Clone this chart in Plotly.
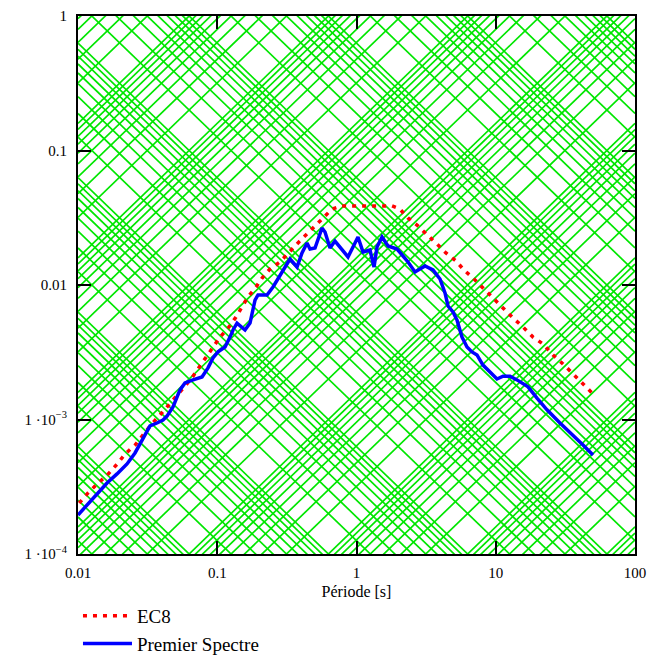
import math
import plotly.graph_objects as go

# ---------------- data ----------------
# EC8 pseudo-velocity spectrum (period [s], value)
ec8_T = [0.0102, 0.0116, 0.0137, 0.0162, 0.0191, 0.0218, 0.0257, 0.0334, 0.0388, 0.0443,
         0.0506, 0.0587, 0.0670, 0.0752, 0.0844, 0.0948, 0.1047, 0.1214, 0.1364, 0.166,
         0.190, 0.210, 0.239, 0.282, 0.333, 0.386, 0.449, 0.512, 0.574, 0.667,
         0.787, 0.929, 1.095, 1.29, 1.52, 1.80, 2.05, 2.34, 2.72, 3.26,
         3.85, 4.39, 5.18, 5.92, 6.87, 8.10, 9.55, 11.28, 13.30, 15.70,
         18.52, 21.85, 25.78, 30.41, 35.87, 42.34, 49.94]
ec8_V = [2.39e-4, 2.79e-4, 3.31e-4, 3.86e-4, 4.66e-4, 5.54e-4, 6.46e-4, 9.1e-4, 1.08e-3, 1.26e-3,
         1.50e-3, 1.77e-3, 2.10e-3, 2.50e-3, 2.92e-3, 3.52e-3, 4.10e-3, 4.87e-3, 5.78e-3, 8.15e-3,
         9.66e-3, 0.01127, 0.01315, 0.01483, 0.0179, 0.0209, 0.0244, 0.0279, 0.0320, 0.0367,
         0.0387, 0.0387, 0.0387, 0.0387, 0.0387, 0.0387, 0.0367, 0.0315, 0.0279, 0.0235,
         0.0198, 0.0173, 0.0151, 0.0129, 0.01128, 9.5e-3, 8.0e-3, 6.75e-3, 5.69e-3, 4.87e-3,
         4.10e-3, 3.64e-3, 3.02e-3, 2.59e-3, 2.18e-3, 1.84e-3, 1.55e-3]

# First spectrum
sp_T = [0.0100, 0.01161, 0.01368, 0.01616, 0.01906, 0.02249, 0.02567, 0.02929, 0.03289, 0.03693,
        0.04077, 0.04356, 0.04810, 0.05401, 0.05866, 0.06697, 0.07773, 0.08584, 0.09322, 0.1013,
        0.1137, 0.1235, 0.1298, 0.1387, 0.1583, 0.1719, 0.1867, 0.1962, 0.2277, 0.2514,
        0.2822, 0.3065, 0.3330, 0.3739, 0.4061, 0.4411, 0.4636, 0.5036, 0.5653, 0.5940,
        0.6452, 0.7008, 0.7870, 0.8690, 1.025, 1.114, 1.250, 1.336, 1.404, 1.525,
        1.684, 1.954, 2.158, 2.344, 2.632, 3.104, 3.543, 3.978, 4.321, 4.541,
        4.932, 5.268, 5.723, 6.216, 6.751, 7.333, 8.097, 9.093, 10.21, 11.28,
        12.66, 14.21, 17.05, 19.78, 23.33, 28.94, 35.87, 42.34, 49.94]
sp_V = [1.95e-4, 2.31e-4, 2.75e-4, 3.37e-4, 3.94e-4, 4.67e-4, 5.64e-4, 7.16e-4, 8.95e-4, 9.42e-4,
        9.91e-4, 1.06e-3, 1.24e-3, 1.66e-3, 1.87e-3, 1.97e-3, 2.07e-3, 2.42e-3, 2.87e-3, 3.18e-3,
        3.46e-3, 4.10e-3, 4.63e-3, 5.21e-3, 4.63e-3, 5.21e-3, 7.73e-3, 8.43e-3, 8.43e-3, 9.66e-3,
        0.01187, 0.01384, 0.01560, 0.01361, 0.01730, 0.02051, 0.01852, 0.01884, 0.02652, 0.02477,
        0.01884, 0.02123, 0.01820, 0.01616, 0.02275, 0.01759, 0.01820, 0.01361, 0.01918, 0.02275,
        0.01950, 0.01852, 0.01643, 0.01483, 0.01250, 0.01384, 0.01294, 0.01108, 8.73e-3, 6.98e-3,
        6.30e-3, 5.49e-3, 4.10e-3, 3.46e-3, 3.18e-3, 3.02e-3, 2.54e-3, 2.25e-3, 2.00e-3, 2.10e-3,
        2.10e-3, 1.97e-3, 1.75e-3, 1.44e-3, 1.18e-3, 9.42e-4, 7.67e-4, 6.46e-4, 5.44e-4]

# tripartite grid: mantissas and decades
grid_mantissas = [1, 2, 3, 4, 5, 6, 7, 8, 9]
accel_decades = [-6, -5, -4, -3, -2, -1, 0, 1, 2]     # constant acceleration lines
disp_decades = [-7, -6, -5, -4, -3, -2, -1, 0, 1]     # constant displacement lines

x_ticks = [0.01, 0.1, 1, 10, 100]
x_ticktext = ["0.01", "0.1", "1", "10", "100"]
y_ticks = [1e-4, 1e-3, 0.01, 0.1, 1]
y_ticktext = ["1 ·10<sup>−4</sup>", "1 ·10<sup>−3</sup>", "0.01", "0.1", "1"]

T_range = [0.01, 100]

# ---------------- figure ----------------
fig = go.Figure()
two_pi = 2 * math.pi

gx, gy = [], []
for k in accel_decades:
    for m in grid_mantissas:
        a = m * 10.0 ** k
        gx += [T_range[0], T_range[1], None]
        gy += [a * T_range[0] / two_pi, a * T_range[1] / two_pi, None]
for k in disp_decades:
    for m in grid_mantissas:
        d = m * 10.0 ** k
        gx += [T_range[0], T_range[1], None]
        gy += [two_pi * d / T_range[0], two_pi * d / T_range[1], None]

fig.add_trace(go.Scatter(x=gx, y=gy, mode="lines", line=dict(color="rgb(0,230,0)", width=1.7),
                         hoverinfo="skip", showlegend=False, connectgaps=False))

fig.add_trace(go.Scatter(x=ec8_T, y=ec8_V, mode="lines", name="EC8",
                         line=dict(color="#ff0000", width=3.5, dash="4px,6px")))
fig.add_trace(go.Scatter(x=sp_T, y=sp_V, mode="lines", name="Premier Spectre",
                         line=dict(color="#0000ff", width=3.5)))

tick_font = dict(family="Liberation Serif", size=15, color="black")
title_font = dict(family="Liberation Serif", size=16, color="black")
fig.update_xaxes(type="log", range=[-2, 2], tickvals=x_ticks, ticktext=x_ticktext,
                 ticks="inside", ticklen=13, tickwidth=1.5, tickcolor="black",
                 showline=True, linecolor="black", linewidth=2, mirror="ticks",
                 showgrid=False, zeroline=False, tickfont=tick_font, ticklabelstandoff=4,
                 title=dict(text="Période [s]", font=title_font, standoff=6))
fig.update_yaxes(type="log", range=[-4, 0], tickvals=y_ticks, ticktext=y_ticktext,
                 ticks="inside", ticklen=13, tickwidth=1.5, tickcolor="black",
                 showline=True, linecolor="black", linewidth=2, mirror="ticks",
                 showgrid=False, zeroline=False, tickfont=tick_font, ticklabelstandoff=6)

fig.update_layout(
    width=652, height=657,
    margin=dict(l=78, r=17, t=16, b=103, autoexpand=False),
    paper_bgcolor="white", plot_bgcolor="white",
    font=dict(family="Liberation Serif", color="black"),
    showlegend=True,
    legend=dict(xref="container", yref="container", x=0.1196, y=0.0913,
                xanchor="left", yanchor="top",
                font=dict(family="Liberation Serif", size=19, color="black"),
                bgcolor="rgba(0,0,0,0)", tracegroupgap=0, itemwidth=49),
)

fig.write_html("out.html")
